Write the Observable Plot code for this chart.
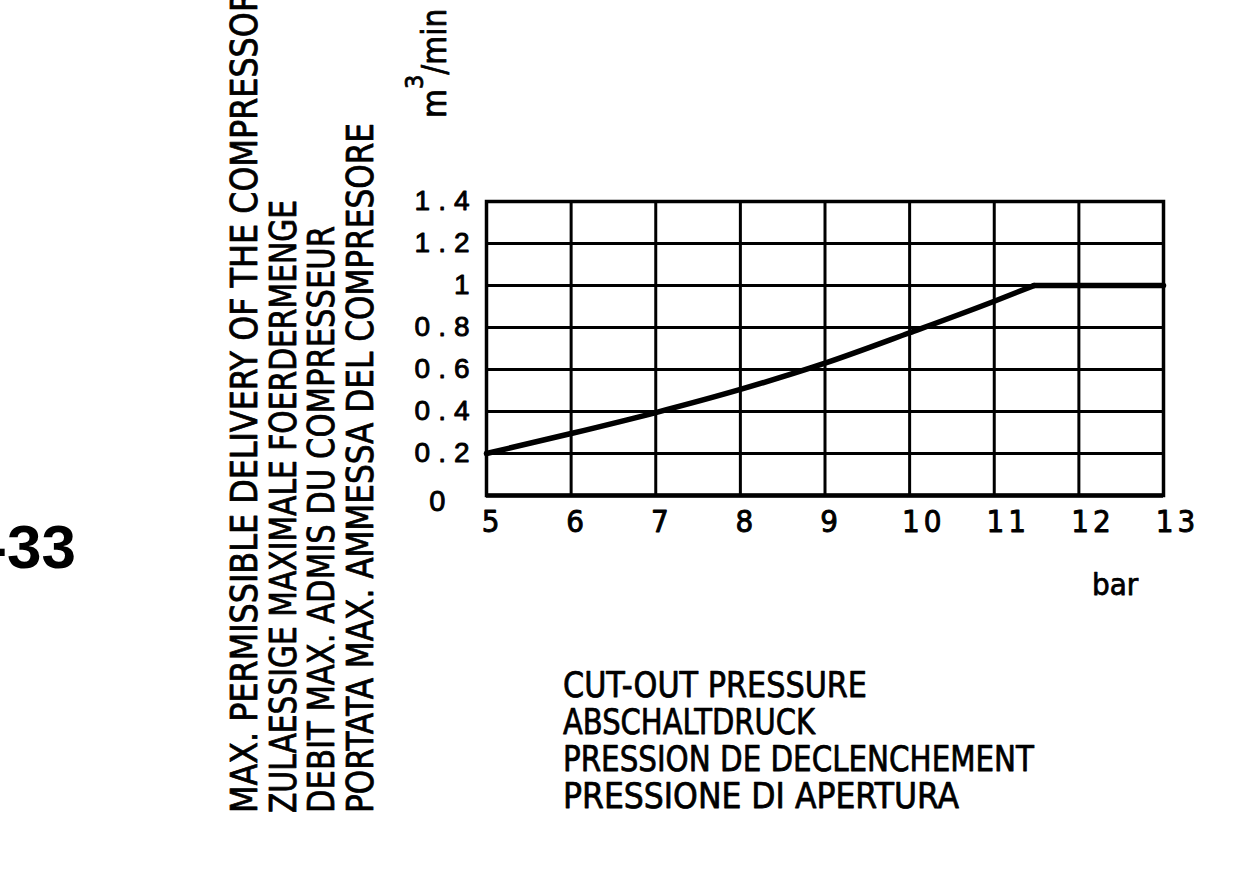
<!DOCTYPE html>
<html><head><meta charset="utf-8">
<script src="https://cdn.jsdelivr.net/npm/d3@7"></script>
<script src="https://cdn.jsdelivr.net/npm/@observablehq/plot@0.6"></script>
<style>
html,body{margin:0;padding:0;background:#fff;}
#chart svg{display:block;}
.ytl text{letter-spacing:8px;}
.xtl2 text{letter-spacing:4px;}
</style></head><body><div id="chart"></div>
<script>
// ---- data ----
const pressure = [5, 6, 7, 8, 9, 10, 11, 11.47];
const delivery = [0.2, 0.295, 0.395, 0.505, 0.63, 0.775, 0.925, 1.0];
const flatPressure = [11.47, 13];
const flatDelivery = [1.0, 1.0];
const xTicks = [5, 6, 7, 8, 9, 10, 11, 12, 13];
const yTicks = [0.2, 0.4, 0.6, 0.8, 1, 1.2, 1.4];
const yTickLabels = ["0.2", "0.4", "0.6", "0.8", "1", "1.2", "1.4"];
const yZero = [0];
const yZeroLabel = "0";
const xUnit = "bar";
const yUnitBase = "m", yUnitSup = "3", yUnitRest = "/min";
const yTitleLines = [
  "MAX. PERMISSIBLE DELIVERY OF THE COMPRESSOR",
  "ZULAESSIGE MAXIMALE FOERDERMENGE",
  "DEBIT MAX. ADMIS DU COMPRESSEUR",
  "PORTATA MAX. AMMESSA DEL COMPRESORE"
];
const xTitleLines = [
  "CUT-OUT PRESSURE",
  "ABSCHALTDRUCK",
  "PRESSION DE DECLENCHEMENT",
  "PRESSIONE DI APERTURA"
];
const figureId = "-33";

// ---- chart ----
const curve = pressure.map((p, i) => ({p, q: delivery[i]}));
const flat = flatPressure.map((p, i) => ({p, q: flatDelivery[i]}));
const narrow = '"Liberation Sans Narrow","Arial Narrow","DejaVu Sans Condensed",sans-serif';
const regular = '"Liberation Sans",Arial,sans-serif';

const plot = Plot.plot({
  width: 1260, height: 891,
  marginLeft: 486, marginRight: 97, marginTop: 201, marginBottom: 396,
  x: {domain: [5, 13], axis: null},
  y: {domain: [0, 1.4], axis: null},
  style: {background: "#fff", color: "#000"},
  marks: [
    Plot.gridX(xTicks, {stroke: "#000", strokeOpacity: 1, strokeWidth: 3}),
    Plot.gridY(yTicks, {stroke: "#000", strokeOpacity: 1, strokeWidth: 3}),
    Plot.frame({stroke: "#000", strokeWidth: 3.5}),
    Plot.ruleY([0], {stroke: "#000", strokeWidth: 4.5}),
    Plot.line(curve, {x: "p", y: "q", curve: "monotone-x", stroke: "#000", strokeWidth: 5.5}),
    Plot.line(flat, {x: "p", y: "q", stroke: "#000", strokeWidth: 5.5}),
    Plot.text(yTicks, {y: d => d, text: (d, i) => yTickLabels[i], frameAnchor: "left", textAnchor: "end",
      lineAnchor: "middle", dx: -9, fontSize: 28, fontFamily: regular, fill: "#000",
      stroke: "#000", strokeWidth: 0.9, className: "ytl"}),
    Plot.text(yZero, {y: d => d, text: () => yZeroLabel, frameAnchor: "left", textAnchor: "end",
      lineAnchor: "middle", dx: -33, dy: 6, fontSize: 29, fontFamily: regular, fill: "#000",
      stroke: "#000", strokeWidth: 0.9, className: "ytl"}),
    Plot.text(xTicks.filter(d => d < 10), {x: d => d, text: d => String(d), frameAnchor: "bottom",
      lineAnchor: "middle", dy: 27, dx: 4, fontSize: 31, fontFamily: narrow, fill: "#000",
      stroke: "#000", strokeWidth: 0.9}),
    Plot.text(xTicks.filter(d => d >= 10), {x: d => d, text: d => String(d), frameAnchor: "bottom",
      lineAnchor: "middle", dy: 27, dx: 14, fontSize: 31, fontFamily: narrow, fill: "#000",
      stroke: "#000", strokeWidth: 0.9, className: "xtl2"})
  ]
});
document.getElementById("chart").appendChild(plot);

// ---- annotations ----
const svg = d3.select(plot);
const heavy = sel => sel.attr("fill", "#000").attr("stroke", "#000").attr("stroke-width", 0.75)
  .attr("stroke-linejoin", "round");
const vPos = [{x: 257, len: 823}, {x: 296, len: 613}, {x: 334, len: 587}, {x: 373, len: 690}];
yTitleLines.forEach((t, i) => {
  svg.append("text")
    .attr("transform", `translate(${vPos[i].x},813) rotate(-90)`)
    .attr("text-anchor", "start")
    .attr("font-family", narrow).attr("font-size", 37)
    .attr("textLength", vPos[i].len).attr("lengthAdjust", "spacingAndGlyphs")
    .call(heavy)
    .text(t);
});
const hPos = [{y: 697, len: 304}, {y: 734, len: 252}, {y: 771, len: 471}, {y: 808, len: 396}];
xTitleLines.forEach((t, i) => {
  svg.append("text")
    .attr("x", 563).attr("y", hPos[i].y)
    .attr("text-anchor", "start")
    .attr("font-family", narrow).attr("font-size", 36)
    .attr("textLength", hPos[i].len).attr("lengthAdjust", "spacingAndGlyphs")
    .call(heavy)
    .text(t);
});
// y unit
const yu = svg.append("text")
  .attr("transform", "translate(446,118) rotate(-90)")
  .attr("text-anchor", "start")
  .attr("font-family", narrow).attr("font-size", 33).call(heavy);
yu.append("tspan").text(yUnitBase);
yu.append("tspan").attr("font-size", 25).attr("dy", -23).text(yUnitSup);
yu.append("tspan").attr("dy", 23).text(yUnitRest);
// x unit
svg.append("text").attr("x", 1092).attr("y", 595).attr("text-anchor", "start")
  .attr("font-family", narrow).attr("font-size", 31).call(heavy).text(xUnit);
// figure id
svg.append("text").attr("x", 76).attr("y", 568).attr("text-anchor", "end")
  .attr("font-family", regular).attr("font-weight", "bold").attr("font-size", 62).attr("fill", "#000")
  .text(figureId);
</script></body></html>
